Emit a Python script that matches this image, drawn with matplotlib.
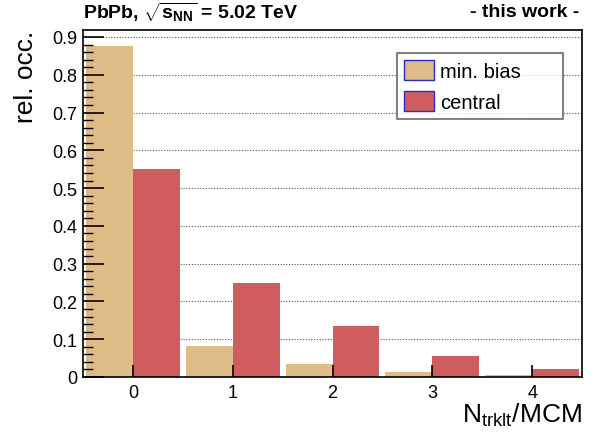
import matplotlib
matplotlib.use("Agg")
import matplotlib.pyplot as plt
from matplotlib.ticker import MultipleLocator
import numpy as np

plt.rcParams['font.family'] = ['Liberation Sans', 'DejaVu Sans']
plt.rcParams['mathtext.fontset'] = 'custom'
plt.rcParams['mathtext.rm'] = 'Liberation Sans'
plt.rcParams['mathtext.it'] = 'Liberation Sans'
plt.rcParams['mathtext.bf'] = 'Liberation Sans:bold'

# Tracklets per MCM and relative occupancy
n_trklt = [0, 1, 2, 3, 4]
min_bias = [0.876, 0.083, 0.034, 0.012, 0.004]
central = [0.551, 0.249, 0.136, 0.055, 0.020]
series_labels = ["min. bias", "central"]
colors = ["#dfbb87", "#cf5d60"]

fig = plt.figure(figsize=(5.97, 4.39), dpi=100)
ax = fig.add_axes([0.139, 0.139, 0.836, 0.790])
ax.set_axisbelow(False)

x = np.array(n_trklt, dtype=float)
w = 0.47
ax.bar(x - w / 2, min_bias, width=w, color=colors[0], linewidth=0,
       label=series_labels[0], zorder=2)
ax.bar(x + w / 2, central, width=w, color=colors[1], linewidth=0,
       label=series_labels[1], zorder=2)

ax.set_xlim(-0.5, 4.5)
ax.set_ylim(0, 0.918)
ax.set_xticks(n_trklt)
ax.yaxis.set_minor_locator(MultipleLocator(0.02))
ax.set_yticks([0, 0.1, 0.2, 0.3, 0.4, 0.5, 0.6, 0.7, 0.8, 0.9])
ax.set_yticklabels(["0", "0.1", "0.2", "0.3", "0.4", "0.5", "0.6", "0.7", "0.8", "0.9"])
ax.tick_params(axis='both', which='major', direction='in', labelsize=13,
               width=1.2, color='black')
ax.tick_params(axis='y', which='major', length=15, pad=4)
ax.tick_params(axis='y', which='minor', direction='in', length=7, width=1.0)
ax.tick_params(axis='x', which='major', length=9, pad=5)

for y in np.arange(0.1, 0.95, 0.1):
    ax.axhline(y, color='#555555', linestyle=(0, (1, 1.5)), linewidth=0.8, zorder=1)

for s in ax.spines.values():
    s.set_linewidth(1.2)

ax.set_ylabel("rel. occ.", fontsize=19, loc='top', labelpad=10)
ax.set_xlabel(r"N$_{\rm trklt}$/MCM", fontsize=19, loc='right', labelpad=0)

fig.text(0.139, 0.972, r"PbPb, $\sqrt{\mathbf{s}_{\mathbf{NN}}}$ = 5.02 TeV",
         fontsize=14, fontweight='bold', ha='left', va='center')
fig.text(0.970, 0.972, "- this work -", fontsize=14, fontweight='bold',
         ha='right', va='center')

leg = ax.legend(loc='upper left', bbox_to_anchor=(0.629, 0.744, 0.333, 0.190),
                mode='expand', fontsize=14.5, frameon=True, fancybox=False,
                shadow=False, handlelength=1.5, handleheight=1.15,
                borderpad=0.35, labelspacing=0.5, handletextpad=0.3,
                borderaxespad=0)
leg.get_frame().set_edgecolor('#444444')
leg.get_frame().set_linewidth(1.2)
for p in leg.get_patches():
    p.set_edgecolor('#2b2bbf')
    p.set_linewidth(1.0)

fig.savefig("out.png", dpi=100)
